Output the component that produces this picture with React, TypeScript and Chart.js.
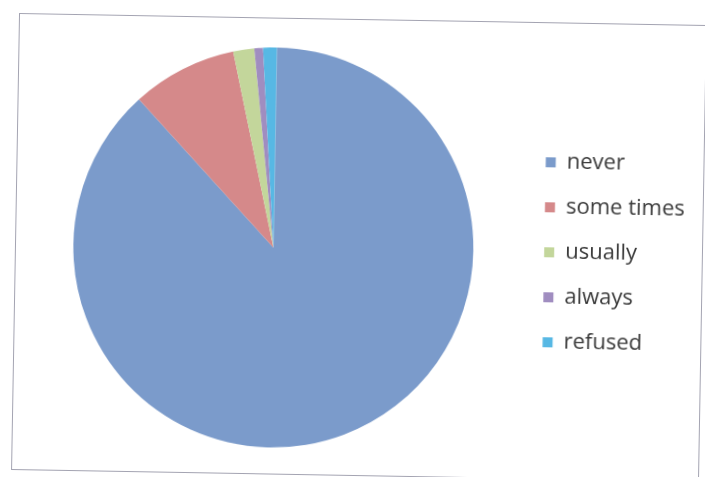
import React, { useEffect, useRef } from "react";
import { Chart, registerables } from "chart.js";

Chart.register(...registerables);

const categories = ["never", "some times", "usually", "always", "refused"];
const values = [88.0, 8.5, 1.7, 0.7, 1.1];
const sliceColors = ["#7b9bcb", "#d5898a", "#c3d69b", "#a08dc0", "#57b8e4"];

export default function App() {
  const ref = useRef<HTMLCanvasElement | null>(null);

  useEffect(() => {
    if (!ref.current) return;
    const chart = new Chart(ref.current, {
      type: "pie",
      data: {
        labels: categories,
        datasets: [
          {
            data: values,
            backgroundColor: sliceColors,
            borderWidth: 0,
            hoverOffset: 0,
          },
        ],
      },
      options: {
        animation: false,
        responsive: true,
        maintainAspectRatio: false,
        layout: { padding: { left: 9.5, right: 8, top: 29, bottom: 26 } },
        plugins: {
          tooltip: { enabled: false },
          legend: {
            position: "right",
            labels: {
              boxWidth: 10,
              boxHeight: 10,
              padding: 23,
              color: "#3a3a3a",
              font: { family: "'Open Sans', sans-serif", size: 22 },
            },
          },
        },
      },
    });
    return () => chart.destroy();
  }, []);

  return (
    <div
      style={{
        position: "absolute",
        left: 15,
        top: 18.5,
        width: 688,
        height: 457,
        border: "1px solid #a4a4b2",
        boxSizing: "border-box",
        transform: "rotate(1deg)",
        background: "#fff",
      }}
    >
      <canvas ref={ref} />
    </div>
  );
}
